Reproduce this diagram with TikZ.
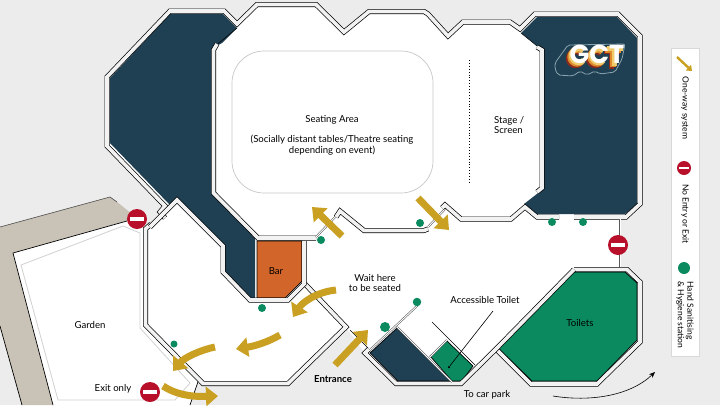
\documentclass[tikz,border=0pt]{standalone}
\usepackage{fontspec}
\setmainfont{Lato}
\newfontfamily\logofont{Poppins}
\usetikzlibrary{arrows.meta}
\definecolor{bgc}{HTML}{ECECEC}
\definecolor{navy}{HTML}{1F3F52}
\definecolor{gold}{HTML}{C9A021}
\definecolor{san}{HTML}{0B8A5F}
\definecolor{barc}{HTML}{D2652A}
\definecolor{taupe}{HTML}{C9C2B6}
\definecolor{stop}{HTML}{B8102A}
\definecolor{wallcore}{HTML}{F2F2F2}
\definecolor{lgone}{HTML}{8A2A1C}
\definecolor{lgtwo}{HTML}{DE8A2C}
\definecolor{lgthree}{HTML}{EFCB6C}
\definecolor{lgedge}{HTML}{8AA5B0}
\tikzset{
 x=1pt,y=-1pt,
 wall/.style={draw=black,line width=0.7pt,double=wallcore,double distance=3.6pt,line join=miter,line cap=butt},
 thinwall/.style={draw=black!65,line width=0.55pt,double=white,double distance=0.9pt},
 block/.style={draw=black,line width=0.7pt},
 lbl/.style={font=\fontsize{9.6}{10.5}\selectfont,align=center,text=black,inner sep=0pt},
 flow/.style={draw=gold,line width=7pt,-{Triangle[length=12pt,width=19pt]}},
 dot/.style={circle,fill=san,draw=none,minimum size=#1,inner sep=0pt},
 hint/.style={draw=black,line width=0.6pt},
 stopdisc/.style={circle,fill=stop,draw=none,minimum size=#1,inner sep=0pt},
 lgshade/.style={line width=5.5pt,line cap=butt},
}
\newcommand{\nosign}[3]{%
 \node[stopdisc=#3*2pt] (#1) at (#2) {};
 \fill[white] ([xshift=-#3*0.72pt,yshift=-#3*0.2pt]#1.center) rectangle ([xshift=#3*0.72pt,yshift=#3*0.2pt]#1.center);
}
\begin{document}
\begin{tikzpicture}
\useasboundingbox (0,0) rectangle (720,405);
\fill[bgc] (0,0) rectangle (720,405);
% garden
\fill[taupe] (0,227)--(110,197)--(116,201)--(138,219)--(127,221)--(13,253)--(53,405)--(22,405)--(0,326)--cycle;
\fill[white] (13,253)--(127,221)--(143,229)--(143,325)--(200,378)--(190,405)--(53,405)--cycle;
\draw[draw=black!70,line width=0.6pt] (0,227)--(110,197)--(117,202);
\draw[black,line width=0.7pt] (0,326)--(22,405);
\draw[black,line width=0.7pt] (127,221)--(13,253)--(53,405);
\draw[black,line width=0.7pt] (200,376)--(190,405);
\draw[black!18,line width=0.8pt] (21,265)--(123,226)--(140,233)--(140,328)--(190,383)--(175,400)--(58,400)--cycle;
% floor
\fill[white] (170,11)--(224,11)--(237,24)--(257,4.5)--(316,4.5)--(344,32)--(369,11.5)--(424,11.5)--(428,14)--(448,36)--(463,22)--(510,22)--(520,29)--(535,14)--(618,14)--(640,36)--(640,204)--(626,217)--(620,219)--(620,269)--(574,269.5)--(496,349)--(461,383.5)--(396,383.5)--(365,353)--(346,327)--(288,384)--(203,384)--(145.5,325)--(145.5,229)--(165,206)--(107,146)--(107,77)--cycle;
% dark blocks
\fill[navy] (110,78)--(170,14)--(223,14)--(237,28)--(222,43)--(213,48)--(213,193)--(255,236)--(255,298)--(250,298)--(225,272)--(225,246)--(177,197)--(170,205)--(110,143)--cycle;
\fill[navy] (537,17)--(617,17)--(637,38)--(637,205)--(625,214)--(537,214)--(524,204)--(542,190)--(542,50)--(521,33)--cycle;
\draw[block,fill=barc] (257,241)--(302,241)--(302,281)--(285,298)--(257,298)--cycle;
\draw[block,fill=san] (573,272)--(625,272)--(637,283)--(637,340)--(597,381)--(532,381)--(498,348)--cycle;
\draw[block,fill=navy] (370,353)--(397,328)--(451,381)--(398,381)--cycle;
\draw[block,fill=san] (430,356)--(447,341)--(473,366)--(462,381)--(452,381)--cycle;
\draw[black,line width=0.5pt] (213,48)--(237,28);
\draw[black,line width=0.5pt] (521,33)--(542,50);
% walls
\draw[wall] (217,44)--(213.5,50)--(213.5,193)--(258,238)--(316,238);
\draw[thinwall] (316,237)--(340,212);
\draw[wall] (336,217)--(340,211)--(364,230.5)--(424,230.5)--(428,229);
\draw[thinwall] (428,227)--(445,209);
\draw[wall] (442,208)--(445,205)--(461,219)--(511,219)--(525,207)--(537,217)--(559,217);
\draw[wall] (574,217)--(626,217)--(640,204)--(640,36)--(618,14)--(535,14)--(520,29)--(510,22)--(463,22)--(448,36)--(428,14)--(424,11.5)--(369,11.5)--(344,32)--(316,4.5)--(257,4.5)--(237,24)--(224,11)--(170,11)--(107,77)--(107,146)--(165,206)--(160,212)--(165,218);
\draw[wall] (537,47)--(542,50)--(542,188)--(537,192);
\draw[wall] (151,224)--(145.5,229)--(145.5,325)--(203,383.5)--(288,383.5)--(346,327)--(305,284);
\draw[wall] (150,227)--(177,200)--(223,246)--(223,272)--(250,300)--(288,300)--(304,284)--(304,241);
\draw[thinwall] (620,219)--(620,267);
\draw[wall] (574,269.5)--(627,269.5)--(640,282)--(640,342)--(597,384)--(531,384)--(496,349);
\draw[wall] (574,269.5)--(496,349)--(461,383.5)--(396,383.5)--(365,353)--(369,349);
\draw[black,line width=0.7pt] (350,330)--(368,348);
\draw[thinwall] (370,350)--(418,305);
\draw[thinwall] (397,327)--(452,382);
\draw[thinwall] (430,357)--(447,340);
\draw[black,line width=0.7pt] (432,322)--(475,365);
% seating
\draw[black!22,line width=0.7pt,rounded corners=32pt] (232,51) rectangle (433,193);
\draw[black,line width=0.9pt,dotted] (469,60)--(469,182);
% labels
\node[lbl] (seat) at (332,120) {Seating Area};
\node[lbl] (seatb) at (332,145) {(Socially distant tables/Theatre seating\\depending on event)};
\node[lbl,align=left,anchor=west] (stage) at (494,125) {Stage /\\Screen};
\node[lbl] (garden) at (90,325) {Garden};
\node[lbl] (exit) at (113,389) {Exit only};
\node[lbl] (bar) at (276,271) {Bar};
\node[lbl,font=\fontsize{9.6}{10.5}\selectfont\bfseries] (entr) at (333,379) {Entrance};
\node[lbl] (wait) at (375,283) {Wait here\\to be seated};
\node[lbl] (acc) at (485,300) {Accessible Toilet};
\node[lbl] (toil) at (580,323) {Toilets};
\node[lbl] (park) at (487,395) {To car park};
% pointer
\coordinate (pa) at (493,311);
\node[circle,fill=black,inner sep=0pt,minimum size=2.5pt] (pb) at (449,367) {};
\draw[hint] (pa)--(pb);
\coordinate (ca) at (553,396);
\coordinate (cb) at (655,372);
\draw[hint,-{Stealth[length=6pt,width=5pt]}] (ca) .. controls (590,402) and (630,396) .. (cb);
% sanitiser dots
\node[dot=8pt] (d1) at (552,222) {};
\node[dot=8pt] (d2) at (583,222) {};
\node[dot=8pt] (d3) at (420,223) {};
\node[dot=8pt] (d4) at (321,240) {};
\node[dot=8pt] (d5) at (262,308) {};
\node[dot=7pt] (d6) at (174,344) {};
\node[dot=10pt] (d7) at (385,327) {};
\node[dot=8.5pt] (d8) at (417,302) {};
% flow arrows
\coordinate (a1) at (342,236); \coordinate (a2) at (312,207);
\draw[flow] (a1)--(a2);
\coordinate (b1) at (418,198); \coordinate (b2) at (449,230);
\draw[flow] (b1)--(b2);
\coordinate (e1) at (335,365); \coordinate (e2) at (368,330);
\draw[flow] (e1)--(e2);
\draw[flow] (336,290) .. controls (316,292) and (302,303) .. (293,317);
\draw[flow] (280,335) .. controls (268,342) and (255,346) .. (236,349);
\draw[flow] (215,347) .. controls (200,350) and (184,358) .. (173,371);
\draw[flow] (163,386) .. controls (175,394) and (190,397) .. (218,396);
% no entry
\nosign{n1}{137,219}{10}
\nosign{n2}{618,245}{10}
\nosign{n3}{150,392}{10}
% legend
\draw[black!15,fill=white,line width=0.7pt] (671,48) rectangle (699,356);
\draw[draw=gold,line width=2.4pt,-{Triangle[length=5pt,width=7.5pt]}] (677,57)--(692,71);
\node[lbl,rotate=-90,font=\fontsize{8.5}{9.5}\selectfont] (l1) at (685,108) {One-way system};
\nosign{n4}{684,168}{7}
\node[lbl,rotate=-90,font=\fontsize{8.5}{9.5}\selectfont] (l2) at (685,214) {No Entry or Exit};
\node[dot=12pt] (l3) at (684,268) {};
\node[lbl,rotate=-90,font=\fontsize{8.5}{9.5}\selectfont,align=left] (l4) at (685,315) {Hand Sanitising\\\& Hygiene station};
% logo
\draw[draw=lgedge,line width=0.8pt,fill=navy,rounded corners=2pt] (555,63)--(568,45)--(625,44)--(622,59)--(615,72)--(600,74)--(595,71)--(587,75)--(580,71)--(573,76)--(558,75)--(555,69)--cycle;
\foreach \dx/\c in {4.5/lgone,3/lgtwo,1.5/lgthree}{
 \begin{scope}[shift={(-\dx,\dx)}]
  \draw[lgshade,draw=\c] (585,49) arc[start angle=45,end angle=315,radius=7pt];
  \draw[lgshade,draw=\c] (605,49) arc[start angle=45,end angle=315,radius=7pt];
  \draw[lgshade,draw=\c] (608,47)--(624,47) (616,47)--(616,64);
 \end{scope}
}
\node[text=white,font=\fontsize{26}{26}\selectfont\logofont\bfseries,inner sep=0pt] (logo) at (597,54) {GCT};
\end{tikzpicture}
\end{document}
